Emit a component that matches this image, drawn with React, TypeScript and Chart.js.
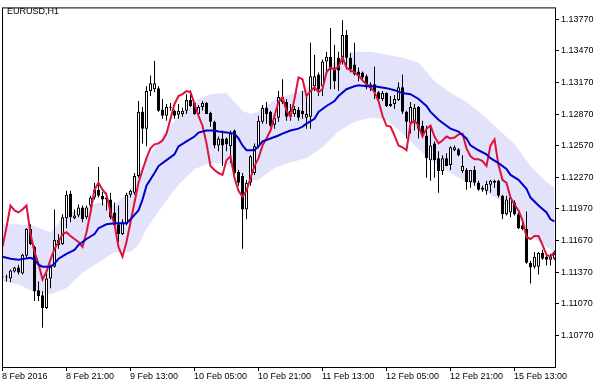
import { useEffect, useRef } from "react";
import { Chart, registerables } from "chart.js";

Chart.register(...registerables);

const symbolTitle = "EURUSD,H1";
const timeLabels = ["8 Feb 2016", "8 Feb 21:00", "9 Feb 13:00", "10 Feb 05:00", "10 Feb 21:00", "11 Feb 13:00", "12 Feb 05:00", "12 Feb 21:00", "15 Feb 13:00"];
const labelBars = [0, 16, 32, 48, 64, 80, 96, 112, 128];
const priceTicks = [1.1077, 1.1107, 1.1137, 1.1167, 1.1197, 1.1227, 1.1257, 1.1287, 1.1317, 1.1347, 1.1377];

const opens = [
  1.11320,1.11330,1.11311,1.11376,1.11414,1.11358,1.11526,1.11779,1.11610,1.11199,
  1.11152,1.11031,1.11311,1.11423,1.11676,1.11638,1.11881,1.12115,1.11881,1.11909,
  1.11984,1.11891,1.12003,1.12078,1.12153,1.12096,1.12078,1.12059,1.11937,1.11825,
  1.11732,1.11825,1.12106,1.12124,1.12283,1.12891,1.12732,1.13088,1.13106,1.13116,
  1.12910,1.12854,1.12929,1.12901,1.12863,1.12872,1.12901,1.13003,1.12975,1.12872,
  1.12938,1.12975,1.12882,1.12798,1.12573,1.12639,1.12639,1.12564,1.12714,1.12321,
  1.12283,1.11965,1.12218,1.12311,1.12564,1.12798,1.12929,1.12891,1.12770,1.12835,
  1.12985,1.12985,1.12844,1.12872,1.12910,1.12901,1.12835,1.12844,1.13134,1.13246,
  1.13134,1.13368,1.13415,1.13312,1.13405,1.13405,1.13620,1.13405,1.13340,1.13275,
  1.13265,1.13228,1.13116,1.13153,1.13078,1.13013,1.13069,1.12966,1.12966,1.13003,
  1.13125,1.12891,1.12788,1.12788,1.12938,1.12760,1.12667,1.12433,1.12592,1.12452,
  1.12330,1.12452,1.12386,1.12527,1.12536,1.12330,1.12340,1.12227,1.12340,1.12218,
  1.12171,1.12143,1.12199,1.12237,1.12237,1.12096,1.11919,1.11937,1.12031,1.11919,
  1.11816,1.11779,1.11461,1.11423,1.11423,1.11554,1.11517,1.11489,1.11498,
];
const highs = [
  1.11358,1.11348,1.11395,1.11423,1.11442,1.11545,1.11788,1.11825,1.11620,1.11283,
  1.11189,1.11358,1.11442,1.11965,1.11732,1.11919,1.12143,1.12143,1.11965,1.12012,
  1.12003,1.12003,1.12096,1.12218,1.12368,1.12134,1.12124,1.12124,1.12031,1.12003,
  1.11872,1.12124,1.12153,1.12311,1.12994,1.12938,1.13134,1.13237,1.13377,1.13134,
  1.13013,1.12966,1.12975,1.12910,1.12966,1.12929,1.13059,1.13097,1.12985,1.12957,
  1.12994,1.12985,1.12891,1.12807,1.12657,1.12714,1.12648,1.12714,1.12723,1.12340,
  1.12311,1.12246,1.12480,1.12592,1.12854,1.12957,1.12985,1.12901,1.12872,1.13088,
  1.13200,1.13013,1.12966,1.12947,1.12938,1.13088,1.13059,1.13546,1.13433,1.13265,
  1.13387,1.13462,1.13686,1.13527,1.13462,1.13761,1.13667,1.13452,1.13546,1.13312,
  1.13275,1.13246,1.13172,1.13321,1.13088,1.13088,1.13078,1.13041,1.13050,1.13172,
  1.13246,1.12901,1.12985,1.12966,1.12947,1.12807,1.12760,1.12760,1.12611,1.12517,
  1.12480,1.12498,1.12564,1.12573,1.12545,1.12480,1.12358,1.12340,1.12377,1.12237,
  1.12190,1.12237,1.12246,1.12246,1.12246,1.12106,1.12096,1.12096,1.12050,1.11937,
  1.11844,1.11947,1.11479,1.11563,1.11563,1.11582,1.11535,1.11545,1.11573,
];
const lows = [
  1.11292,1.11283,1.11274,1.11367,1.11348,1.11348,1.11507,1.11629,1.11096,1.11096,
  1.10844,1.11021,1.11218,1.11414,1.11592,1.11629,1.11788,1.11844,1.11872,1.11891,
  1.11844,1.11872,1.11984,1.12059,1.12078,1.12003,1.11956,1.11872,1.11797,1.11657,
  1.11722,1.11816,1.12078,1.12106,1.12265,1.12592,1.12564,1.13041,1.13078,1.12891,
  1.12826,1.12807,1.12901,1.12826,1.12826,1.12844,1.12872,1.12938,1.12863,1.12844,
  1.12901,1.12872,1.12751,1.12545,1.12517,1.12377,1.12517,1.12405,1.12283,1.12190,
  1.11592,1.11872,1.12190,1.12293,1.12545,1.12779,1.12779,1.12751,1.12732,1.12798,
  1.12966,1.12807,1.12807,1.12844,1.12807,1.12826,1.12732,1.12732,1.13088,1.13041,
  1.13041,1.13265,1.13106,1.13106,1.13088,1.13340,1.13293,1.13265,1.13237,1.13181,
  1.13181,1.13106,1.13088,1.13013,1.12994,1.12994,1.12938,1.12938,1.12919,1.12994,
  1.12872,1.12639,1.12685,1.12714,1.12639,1.12657,1.12265,1.12237,1.12265,1.12124,
  1.12293,1.12377,1.12340,1.12517,1.12470,1.12311,1.12153,1.12171,1.12190,1.12143,
  1.12134,1.12106,1.12124,1.12171,1.12078,1.11872,1.11909,1.11891,1.11909,1.11779,
  1.11769,1.11451,1.11264,1.11405,1.11348,1.11489,1.11433,1.11433,1.11489,
];
const closes = [
  1.11330,1.11320,1.11386,1.11414,1.11367,1.11535,1.11779,1.11638,1.11189,1.11143,
  1.11031,1.11311,1.11423,1.11676,1.11629,1.11891,1.12106,1.11891,1.11909,1.11984,
  1.11872,1.11984,1.12078,1.12153,1.12096,1.12059,1.12059,1.11891,1.11816,1.11732,
  1.11844,1.12106,1.12143,1.12283,1.12891,1.12732,1.13088,1.13162,1.13162,1.12901,
  1.12854,1.12938,1.12938,1.12854,1.12901,1.12901,1.13003,1.12947,1.12872,1.12938,
  1.12975,1.12872,1.12798,1.12573,1.12639,1.12573,1.12583,1.12685,1.12311,1.12218,
  1.11965,1.12218,1.12470,1.12564,1.12807,1.12929,1.12872,1.12760,1.12835,1.13031,
  1.13031,1.12844,1.12901,1.12919,1.12835,1.12872,1.12872,1.13228,1.13228,1.13106,
  1.13368,1.13415,1.13293,1.13181,1.13284,1.13620,1.13405,1.13293,1.13246,1.13228,
  1.13218,1.13125,1.13153,1.13078,1.13013,1.13069,1.12947,1.12947,1.13013,1.13125,
  1.12891,1.12798,1.12938,1.12929,1.12732,1.12667,1.12452,1.12573,1.12433,1.12330,
  1.12452,1.12377,1.12555,1.12555,1.12480,1.12377,1.12227,1.12340,1.12218,1.12153,
  1.12153,1.12209,1.12237,1.12218,1.12096,1.11919,1.12059,1.12078,1.11919,1.11788,
  1.11779,1.11461,1.11414,1.11517,1.11554,1.11498,1.11489,1.11517,1.11545,
];

// fast (red) line, one value per bar
const signalValues = [
  1.11610,1.11797,1.12003,1.11956,1.11937,1.11965,1.12003,1.11732,1.11563,1.11451,
  1.11302,1.11376,1.11489,1.11592,1.11657,1.11732,1.11750,1.11713,1.11685,1.11657,
  1.11610,1.11750,1.11937,1.12153,1.12218,1.12153,1.12106,1.11937,1.11825,1.11610,
  1.11517,1.11657,1.11844,1.12031,1.12218,1.12340,1.12452,1.12545,1.12583,1.12592,
  1.12620,1.12685,1.12826,1.12966,1.13041,1.13059,1.13088,1.13078,1.12966,1.12854,
  1.12760,1.12592,1.12377,1.12340,1.12311,1.12293,1.12433,1.12470,1.12265,1.12143,
  1.12087,1.12143,1.12265,1.12377,1.12452,1.12573,1.12639,1.12714,1.12854,1.12985,
  1.13031,1.12901,1.12844,1.13013,1.13218,1.13200,1.13041,1.13088,1.13125,1.13078,
  1.13106,1.13265,1.13312,1.13293,1.13321,1.13405,1.13312,1.13284,1.13265,1.13237,
  1.13190,1.13153,1.13125,1.13078,1.12994,1.12854,1.12760,1.12751,1.12667,1.12573,
  1.12555,1.12527,1.12779,1.12807,1.12760,1.12657,1.12732,1.12760,1.12657,1.12592,
  1.12620,1.12657,1.12639,1.12648,1.12676,1.12685,1.12545,1.12470,1.12442,1.12442,
  1.12424,1.12377,1.12573,1.12629,1.12386,1.12246,1.12218,1.12078,1.12012,1.11956,
  1.11863,1.11704,1.11685,1.11713,1.11713,1.11629,1.11535,1.11517,1.11563,
];

// slow (blue) moving average, read at these bars
const maBars = [0,2,4,7,8,9,10,12,13,14,16,18,19,21,23,24,26,28,29,31,32,34,35,36,38,39,41,43,44,46,48,49,51,53,54,56,58,59,60,61,63,64,65,67,69,70,72,74,75,76,78,79,81,83,84,86,88,89,91,93,96,98,100,102,104,106,107,109,111,112,114,116,117,119,121,122,124,126,127,129,131,132,134,136,137,138];
const maValues = [
  1.11517,1.11498,1.11489,1.11507,1.11489,1.11442,1.11423,1.11423,1.11451,1.11498,
  1.11545,1.11582,1.11629,1.11685,1.11732,1.11788,1.11825,1.11835,1.11835,1.11835,
  1.11872,1.11956,1.12059,1.12190,1.12311,1.12377,1.12433,1.12489,1.12564,1.12611,
  1.12657,1.12695,1.12714,1.12714,1.12704,1.12695,1.12685,1.12639,1.12573,1.12527,
  1.12527,1.12564,1.12611,1.12639,1.12667,1.12685,1.12714,1.12732,1.12751,1.12779,
  1.12826,1.12891,1.12947,1.12994,1.13041,1.13106,1.13134,1.13143,1.13134,1.13134,
  1.13116,1.13097,1.13069,1.13059,1.13013,1.12947,1.12891,1.12816,1.12760,1.12732,
  1.12704,1.12639,1.12573,1.12527,1.12489,1.12452,1.12405,1.12349,1.12293,1.12246,
  1.12162,1.12078,1.12003,1.11937,1.11872,1.11853,
];

// envelope band, read at these bars
const bandBars = [0,4,8,12,16,20,24,28,32,34,36,40,44,48,52,56,60,62,64,68,72,76,80,84,88,92,96,100,104,108,112,116,120,124,128,132,136,138];
const bandUpper = [
  1.11825,1.11825,1.11807,1.11750,1.11919,1.11975,1.12031,1.12003,1.12153,1.12311,
  1.12433,1.12667,1.12854,1.12994,1.13059,1.13069,1.12901,1.12872,1.12891,1.13003,
  1.13059,1.13106,1.13265,1.13396,1.13462,1.13462,1.13433,1.13405,1.13359,1.13181,
  1.13069,1.12985,1.12863,1.12723,1.12583,1.12377,1.12227,1.12171,
];
const bandLower = [
  1.11283,1.11255,1.11180,1.11161,1.11218,1.11367,1.11461,1.11563,1.11563,1.11629,
  1.11779,1.12003,1.12199,1.12349,1.12405,1.12396,1.12283,1.12237,1.12246,1.12358,
  1.12414,1.12452,1.12555,1.12704,1.12798,1.12835,1.12816,1.12685,1.12536,1.12405,
  1.12311,1.12227,1.12153,1.12059,1.11937,1.11722,1.11610,1.11563,
];

const FONT = "Liberation Sans";

const framePlugin = {
  id: "mtFrame",
  afterDraw(chart: any) {
    const { ctx, chartArea } = chart;
    ctx.save();
    ctx.strokeStyle = "#000";
    ctx.lineWidth = 1;
    ctx.strokeRect(chartArea.left + 0.5, chartArea.top + 0.5, chartArea.right - chartArea.left, chartArea.bottom - chartArea.top);
    ctx.fillStyle = "#000";
    ctx.font = `9px "${FONT}"`;
    ctx.textBaseline = "alphabetic";
    ctx.textAlign = "left";
    ctx.fillText(symbolTitle, 7, 14);
    ctx.restore();
  },
};

export default function App() {
  const ref = useRef<HTMLCanvasElement>(null);

  useEffect(() => {
    if (!ref.current) return;
    const idx = opens.map((_, i) => i);
    const bodies = idx.map((i) => ({ x: i, y: [Math.min(opens[i], closes[i]), Math.max(opens[i], closes[i])] }));
    const wicks = idx.map((i) => ({ x: i, y: [lows[i], highs[i]] }));
    const bodyColors = idx.map((i) => (closes[i] < opens[i] ? "#000000" : "#ffffff"));
    const maData = maBars.map((b, k) => ({ x: b, y: maValues[k] }));
    const sigData = idx.map((i) => ({ x: i, y: signalValues[i] }));
    const upData = bandBars.map((b, k) => ({ x: b, y: bandUpper[k] }));
    const loData = bandBars.map((b, k) => ({ x: b, y: bandLower[k] }));

    const chart = new Chart(ref.current, {
      type: "bar",
      data: {
        datasets: [
          { type: "line", data: maData, borderColor: "#0000cd", borderWidth: 2, pointRadius: 0, tension: 0, fill: false, order: 0 } as any,
          { type: "line", data: sigData, borderColor: "#dc143c", borderWidth: 2, pointRadius: 0, tension: 0, fill: false, order: 0 } as any,
          { type: "bar", data: bodies, backgroundColor: bodyColors, borderColor: "#000", borderWidth: 1, borderSkipped: false, barThickness: 3, maxBarThickness: 3, grouped: false, minBarLength: 1, inflateAmount: 0, order: 1 } as any,
          { type: "bar", data: wicks, backgroundColor: "#000", borderWidth: 0, barThickness: 1, maxBarThickness: 1, grouped: false, inflateAmount: 0, order: 2 } as any,
          { type: "line", data: upData, fill: "+1", backgroundColor: "rgb(226,226,250)", borderColor: "rgba(0,0,0,0)", borderWidth: 0, pointRadius: 0, tension: 0, order: 3 } as any,
          { type: "line", data: loData, fill: false, borderColor: "rgba(0,0,0,0)", borderWidth: 0, pointRadius: 0, tension: 0, order: 4 } as any,
        ],
      },
      options: {
        responsive: false,
        devicePixelRatio: 1,
        animation: false,
        layout: { padding: { left: 2, top: 2, right: 0, bottom: 0 } },
        plugins: { legend: { display: false }, tooltip: { enabled: false }, title: { display: false } },
        scales: {
          x: {
            type: "linear",
            min: -0.125,
            max: 138.125,
            offset: false,
            grid: { drawOnChartArea: false, drawTicks: true, tickLength: 4, color: "#000", offset: false },
            border: { display: false },
            ticks: {
              autoSkip: false,
              maxRotation: 0,
              minRotation: 0,
              align: "start",
              padding: 0,
              color: "#000",
              font: { family: FONT, size: 9 },
              callback: (v: any) => {
                const k = labelBars.indexOf(Math.round(Number(v) + 0.125));
                return k >= 0 ? timeLabels[k] : "";
              },
            },
            afterBuildTicks: (s: any) => {
              s.ticks = labelBars.map((b) => ({ value: b - 0.125 }));
            },
            afterFit: (s: any) => {
              s.height = 20;
            },
          } as any,
          y: {
            type: "linear",
            position: "right",
            min: 1.10471,
            max: 1.13882,
            grid: { drawOnChartArea: false, drawTicks: true, tickLength: 4, color: "#000" },
            border: { display: false },
            ticks: {
              padding: 2,
              color: "#000",
              font: { family: FONT, size: 9 },
              callback: (v: any) => Number(v).toFixed(5),
            },
            afterBuildTicks: (s: any) => {
              s.ticks = priceTicks.map((v) => ({ value: v }));
            },
            afterFit: (s: any) => {
              s.width = 52;
            },
          } as any,
        },
      },
      plugins: [framePlugin],
    });
    return () => chart.destroy();
  }, []);

  return (
    <div style={{ position: "fixed", left: 0, top: 0, width: 607, height: 387, background: "#fff" }}>
      <canvas ref={ref} width={607} height={387} style={{ display: "block", width: 607, height: 387 }} />
    </div>
  );
}
